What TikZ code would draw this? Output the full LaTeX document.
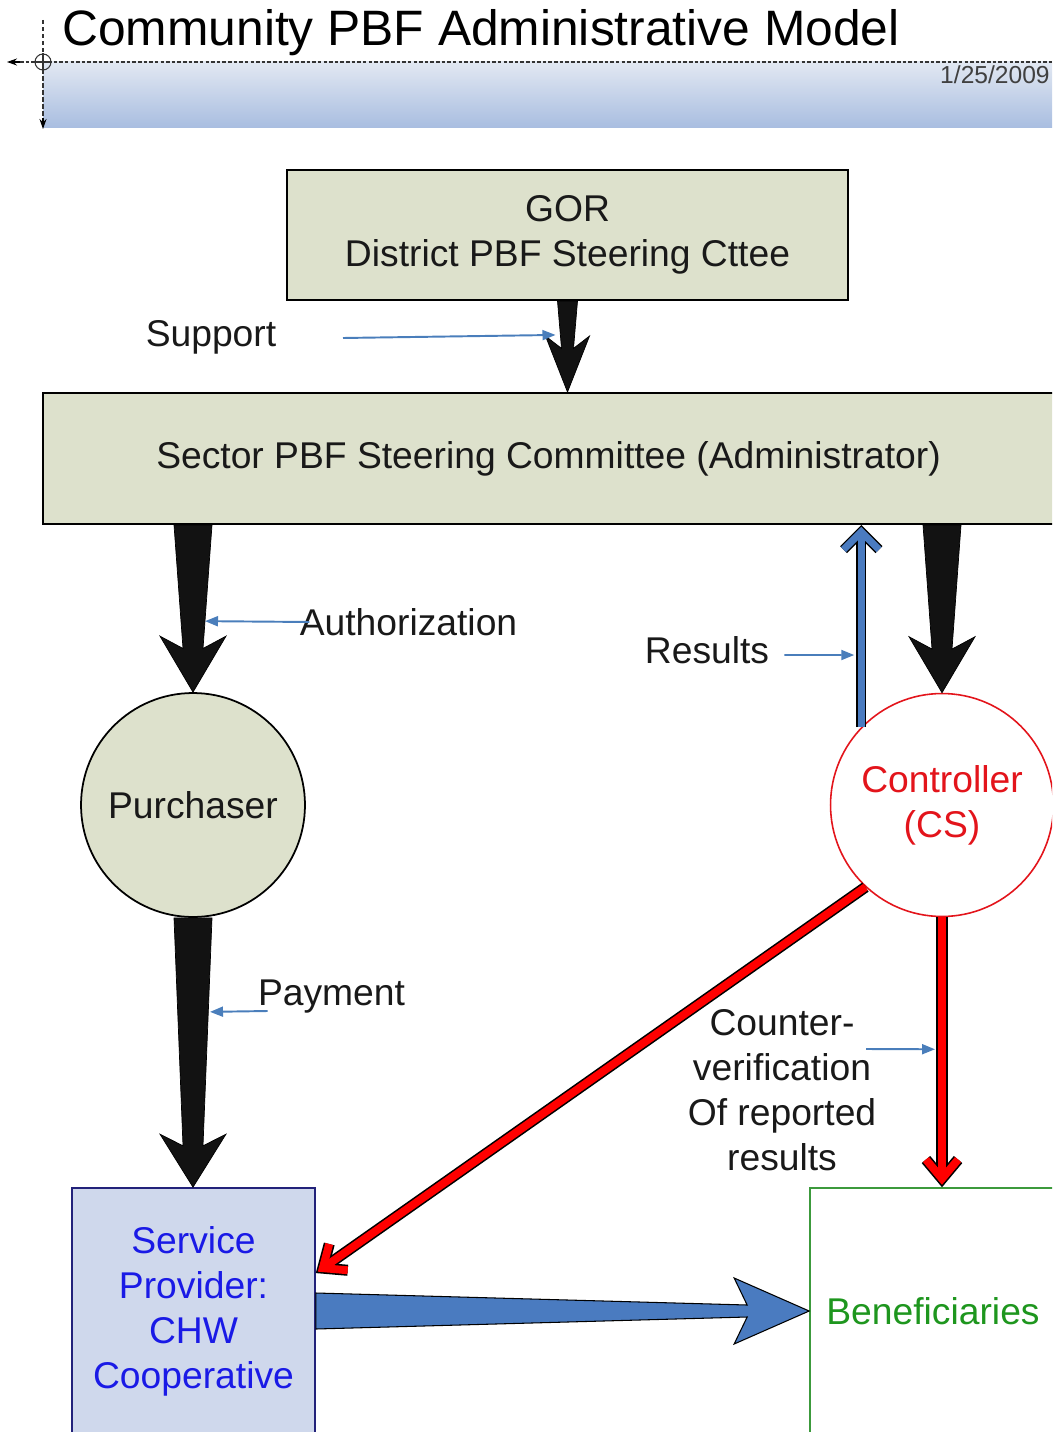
\documentclass[tikz,border=0pt]{standalone}
\usepackage{fontspec}
\setmainfont{Liberation Sans}
\usetikzlibrary{calc,arrows.meta}
\definecolor{boxfill}{HTML}{DDE1CC}
\definecolor{hdtop}{HTML}{E2E8F2}
\definecolor{hdbot}{HTML}{A8BDE0}
\definecolor{lblblue}{HTML}{4A7EBB}
\definecolor{fatblue}{HTML}{4A7BC0}
\definecolor{spfill}{HTML}{CFD8EC}
\definecolor{spborder}{HTML}{22227A}
\definecolor{spblue}{HTML}{1A1AE6}
\definecolor{ctlred}{HTML}{E3141B}
\definecolor{bengreen}{HTML}{3C9A3C}
\definecolor{bentext}{HTML}{1E961E}
\definecolor{arrowblack}{HTML}{121212}
\newcommand\fatdown[6]{%
  \filldraw[fill=arrowblack, draw=black, line width=0.4pt]
    ($(#1)+(-#3,0)$) -- ($(#1)+(#3,0)$) -- ($(#2)+(#4,-#6*0.78)$) --
    ($(#2)+(#5,-#6)$) -- (#2) -- ($(#2)+(-#5,-#6)$) --
    ($(#2)+(-#4,-#6*0.78)$) -- cycle;}
\tikzset{
  olivebox/.style={draw=black, line width=1.1pt, fill=boxfill, inner sep=0pt, align=center, text=black!90},
  lbl/.style={inner sep=0pt, align=center, text=black!90},
  lblarrow/.style={draw=lblblue, line width=1.1pt, -{Triangle[length=0.26cm,width=0.2cm]}},
  redout/.style={draw=black, line width=6.3pt},
  redin/.style={draw=red, line width=4.5pt},
  blueout/.style={draw=black, line width=5.6pt},
  bluein/.style={draw=fatblue, line width=4pt}
}
\begin{document}
\begin{tikzpicture}[x=0.02cm, y=-0.02cm, every node/.style={font=\fontsize{21.2}{25.6}\selectfont}]
\useasboundingbox (0,0) rectangle (1052,1432);
\clip (0,0) rectangle (1052,1432);

% header
\shade[top color=hdtop, bottom color=hdbot] (43,62) rectangle (1052,128);
\draw[black!80, line width=0.6pt, dash pattern=on 2pt off 1.2pt] (20,62) -- (1052,62);
\draw[black!80, line width=0.6pt, dash pattern=on 2.5pt off 1.5pt] (43,20) -- (43,122);
\draw[black, line width=0.6pt, -{Stealth[length=0.2cm,width=0.14cm]}] (43,118) -- (43,129);
\draw[black, line width=0.6pt, -{Stealth[length=0.2cm,width=0.14cm]}] (20,62) -- (7,62);
\draw[black!80, line width=0.6pt] (43,62) circle[radius=0.16cm];
\draw[black!80, line width=0.6pt] (34,62) -- (52,62) (43,53) -- (43,71);
\node[anchor=base west, inner sep=0pt, font=\fontsize{28.3}{34}\selectfont] (title) at (62,46) {Community PBF Administrative Model};
\node[anchor=base east, inner sep=0pt, font=\fontsize{14}{17}\selectfont, text=black!75] (date) at (1050,84) {1/25/2009};

% boxes
\node[olivebox, minimum width=11.22cm, minimum height=2.6cm] (gor) at (567.5,235) {GOR\\District PBF Steering Cttee};
\node[olivebox, minimum width=20.22cm, minimum height=2.62cm] (sector) at (548.5,458.5) {Sector PBF Steering Committee (Administrator)};
\node[circle, draw=black, fill=boxfill, line width=1pt, minimum size=4.48cm, inner sep=0pt, text=black!90] (purch) at (193,805) {Purchaser};
\node[circle, draw=ctlred, fill=white, line width=0.9pt, minimum size=4.46cm, inner sep=0pt, align=center, text=ctlred] (ctrl) at (942,805) {Controller\\(CS)};
\node[draw=spborder, fill=spfill, line width=1pt, minimum width=4.86cm, minimum height=4.92cm, inner sep=0pt, align=center, text=spblue] (sp) at (193.5,1311) {Service\\Provider:\\CHW\\Cooperative};
\node[draw=bengreen, fill=white, line width=1pt, minimum width=4.92cm, minimum height=4.92cm, inner sep=0pt, text=bentext] (ben) at (933,1311) {Beneficiaries};

% black fat arrows
\coordinate (gortip) at (sector.north -| gor.south);
\coordinate (purtop) at (sector.south -| purch.north);
\coordinate (sptip) at (sp.north -| purch.south);
\coordinate (ctltop) at (sector.south -| ctrl.north);
\fatdown{gor.south}{gortip}{10}{6}{22}{56}
\fatdown{purtop}{purch.north}{19}{10}{33}{56}
\fatdown{purch.south}{sptip}{19}{10}{33}{53}
\fatdown{ctltop}{ctrl.north}{19}{10}{33}{56}

% blue fat arrow
\filldraw[fill=fatblue, draw=black, line width=0.6pt]
  ($(sp.east)+(0,-18)$) -- ($(ben.west)+(-62,-6)$) -- ($(ben.west)+(-75,-33)$) --
  (ben.west) -- ($(ben.west)+(-75,33)$) -- ($(ben.west)+(-62,6)$) --
  ($(sp.east)+(0,18)$) -- cycle;

% results arrow (blue, outlined)
\coordinate (resS) at (ctrl.136);
\coordinate (resTarget) at (sector.south -| resS);
\coordinate (resT) at ($(resTarget)!0.14cm!(resS)$);
\foreach \st in {blueout,bluein}{
  \draw[\st] (resS) -- ($(resT)!0.08cm!(resS)$);
  \draw[\st, miter limit=10] ($(resT)!0.5cm!45:(resS)$) -- (resT) -- ($(resT)!0.5cm!-45:(resS)$);
}

% red arrows
\coordinate (rdS) at (ctrl.227.5);
\coordinate (rdTarget) at ($(sp.east)+(0,-38)$);
\coordinate (rdT) at ($(rdTarget)!0.17cm!(rdS)$);
\coordinate (rvS) at (ctrl.south);
\coordinate (rvTarget) at (ben.north -| ctrl.south);
\coordinate (rvT) at ($(rvTarget)!0.17cm!(rvS)$);
\foreach \st in {redout,redin}{
  \draw[\st] (rdS) -- ($(rdT)!0.1cm!(rdS)$);
  \draw[\st, miter limit=10] ($(rdT)!0.5cm!40:(rdS)$) -- (rdT) -- ($(rdT)!0.5cm!-40:(rdS)$);
  \draw[\st] (rvS) -- ($(rvT)!0.1cm!(rvS)$);
  \draw[\st, miter limit=10] ($(rvT)!0.5cm!40:(rvS)$) -- (rvT) -- ($(rvT)!0.5cm!-40:(rvS)$);
}

% labels
\node[lbl] (suplbl) at (211,337) {Support};
\coordinate (supfrom) at (343,338);
\coordinate (supto) at ($(gor.south)+(-12,34)$);
\draw[lblarrow] (supfrom) -- (supto);

\node[lbl] (authlbl) at (408.5,622) {Authorization};
\coordinate (authto) at ($(purch.north)+(12,-71)$);
\draw[lblarrow] ($(authlbl.west)+(10,0)$) -- (authto);

\node[lbl] (reslbl) at (707,650) {Results};
\coordinate (resto) at ($(ctrl.136)+(-7,-72)$);
\draw[lblarrow] ($(reslbl.east)+(15,5)$) -- (resto);

\node[lbl] (paylbl) at (331.5,997) {Payment};
\coordinate (payto) at ($(purch.south)+(17,94)$);
\draw[lblarrow] ($(paylbl.west)+(10,14)$) -- (payto);

\node[lbl] (cvlbl) at (782,1090) {Counter-\\verification\\Of reported\\results};
\coordinate (cvfrom) at (866,1049);
\coordinate (cvto) at ($(ctrl.south)+(-7,132)$);
\draw[lblarrow] (cvfrom) -- (cvto);
\end{tikzpicture}
\end{document}
